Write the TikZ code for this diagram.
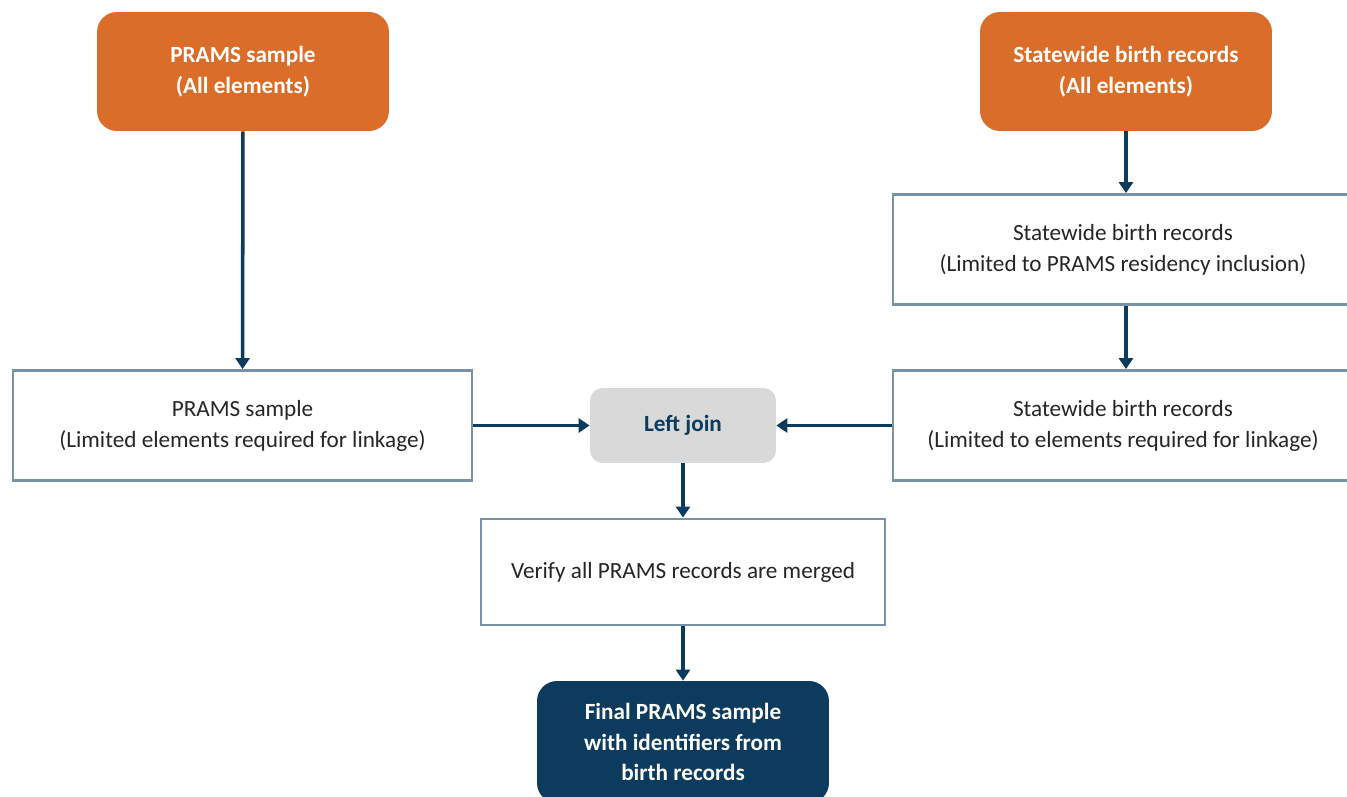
\documentclass[tikz,border=0pt]{standalone}
\usepackage{fontspec}
\setmainfont{Carlito}
\usetikzlibrary{arrows.meta, positioning}
\definecolor{prOrange}{HTML}{DA6D29}
\definecolor{prNavy}{HTML}{0D3B5E}
\definecolor{prEdge}{HTML}{7893A6}
\definecolor{prGray}{HTML}{D9D9D9}
\tikzset{
  srcbox/.style={draw=none, fill=prOrange, rounded corners=0.4cm, text=white, font=\fontsize{13.2}{17.6}\selectfont\bfseries, align=center, minimum width=5.84cm, minimum height=2.38cm},
  stepbox/.style={draw=prEdge, line width=1.6pt, fill=white, text=black!85, font=\fontsize{13.2}{17.6}\selectfont, align=center, minimum height=2.2cm},
  joinbox/.style={fill=prGray, rounded corners=0.25cm, text=prNavy, font=\fontsize{13.2}{17.6}\selectfont\bfseries, minimum width=3.72cm, minimum height=1.5cm},
  finalbox/.style={fill=prNavy, rounded corners=0.4cm, text=white, font=\fontsize{13.2}{17.6}\selectfont\bfseries, align=center, minimum width=5.84cm, minimum height=2.44cm},
  link/.style={draw=prNavy, line width=2pt, -{Triangle[length=0.22cm, width=0.28cm]}}
}
\begin{document}
\begin{tikzpicture}[x=0.02cm, y=-0.02cm]
\useasboundingbox (0,0) rectangle (1347,797);
% Sources
\node[srcbox] (pramsAll) at (243, 71.5) {PRAMS sample\\(All elements)};
\node[srcbox] (birthAll) at (1126, 71.5) {Statewide birth records\\(All elements)};
% Restriction steps
\node[stepbox, minimum width=9.2cm] (birthRes) at (1123, 249.5) {Statewide birth records\\(Limited to PRAMS residency inclusion)};
\node[stepbox, minimum width=9.2cm] (birthLink) at (1123, 425.5) {Statewide birth records\\(Limited to elements required for linkage)};
\node[stepbox, minimum width=9.18cm] (pramsLink) at (242.5, 425.5) {PRAMS sample\\(Limited elements required for linkage)};
% Merge
\node[joinbox] (join) at (683, 425.5) {Left join};
\node[stepbox, minimum width=8.08cm, minimum height=2.12cm] (verify) at (683, 572) {Verify all PRAMS records are merged};
\node[finalbox] (final) at (683, 742) {Final PRAMS sample\\with identifiers from\\birth records};
% Connectors
\draw[link] (pramsAll) -- (pramsLink);
\draw[link] (birthAll) -- (birthAll |- birthRes.north);
\draw[link] (birthAll |- birthRes.south) -- (birthAll |- birthLink.north);
\draw[link] (pramsLink) -- (join);
\draw[link] (birthLink) -- (join);
\draw[link] (join) -- (verify);
\draw[link] (verify) -- (final);
\end{tikzpicture}
\end{document}
